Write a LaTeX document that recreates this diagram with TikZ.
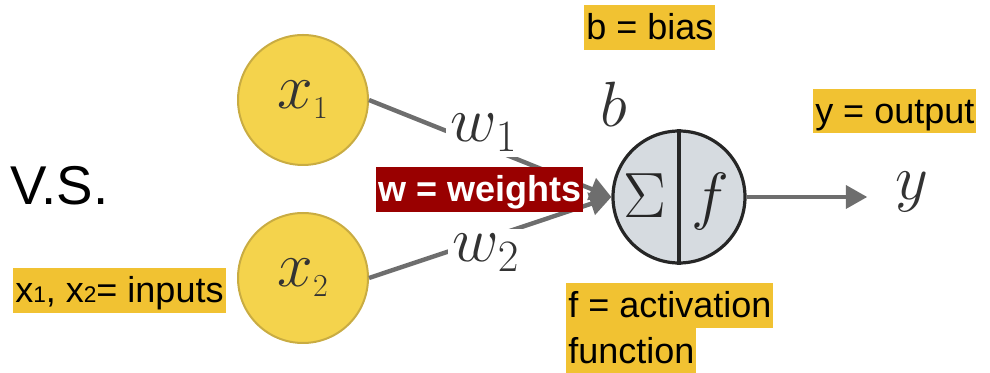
\RequirePackage{fix-cm}
\documentclass[tikz,border=0pt]{standalone}
\usepackage[no-math]{fontspec}
\usepackage{tikz}
\usetikzlibrary{arrows.meta,positioning}
\newfontfamily\slidefont{Liberation Sans}
\newcommand{\bigmath}{\fontsize{48}{50}\selectfont}
\newcommand{\labelfont}{\slidefont\fontsize{27}{30}\selectfont}
\newcommand{\insub}[1]{{\fontsize{17}{17}\selectfont #1}}
\definecolor{hlyellow}{HTML}{F1C232}
\definecolor{darkred}{HTML}{990000}
\definecolor{inputfill}{HTML}{F4D34C}
\definecolor{inputdraw}{HTML}{C9AC42}
\definecolor{neurfill}{HTML}{D6DBE0}
\definecolor{neurdraw}{HTML}{262626}
\definecolor{arrowgray}{HTML}{6E6E6E}
\definecolor{mathgray}{HTML}{333333}

\begin{document}
\begin{tikzpicture}[x=0.75pt, y=-0.75pt,
    inputnode/.style={circle, draw=inputdraw, fill=inputfill, line width=1.5pt, minimum size=97.5pt, inner sep=0pt, font=\bigmath, text=mathgray},
    neuronnode/.style={circle, draw=neurdraw, fill=neurfill, line width=2.4pt, minimum size=99pt, inner sep=0pt},
    mathlbl/.style={inner sep=0pt, font=\bigmath, text=mathgray},
    wlabel/.style={mathlbl, fill=white, inner sep=4pt},
    hl/.style={fill=hlyellow, inner xsep=1.5pt, inner ysep=1.5pt, text height=24.5pt, text depth=6pt, font=\labelfont, anchor=west},
    conn/.style={-{Triangle[length=16pt, width=17pt]}, line width=3.3pt, arrowgray}
]
    \useasboundingbox (0,0) rectangle (990,373);

    % neurons
    \node[inputnode] (x1) at (303,100) {$x_{\scriptscriptstyle 1}$};
    \node[inputnode] (x2) at (303,278) {$x_{\scriptscriptstyle 2}$};
    \node[neuronnode] (neuron) at (679,197) {};
    \draw[line width=2.4pt, neurdraw] (neuron.north) -- (neuron.south);
    \node[mathlbl, text=neurdraw, anchor=base] (sum) at (645,218) {$\Sigma$};
    \node[mathlbl, text=neurdraw, anchor=base] (act) at (710,218) {$f$};
    \node[mathlbl, anchor=base] (bias) at (614,127) {$b$};
    \node[mathlbl, anchor=base] (yout) at (912,200) {$y$};

    % connectors
    \draw[conn] (x1.east) -- (neuron.west);
    \draw[conn] (x2.east) -- (neuron.west);
    \draw[conn, shorten >=21pt] (neuron.east) -- (neuron.east -| yout.west);

    \node[wlabel, anchor=base] (w1) at (484,142) {$w_{1}$};
    \node[wlabel, anchor=base] (w2) at (486,262) {$w_{2}$};

    % highlighted notes
    \node[inner sep=0pt, anchor=base west, font=\slidefont\fontsize{41}{45}\selectfont] (vs) at (10,205) {V.S.};
    \node[hl] (biasdef) at (584,27.5) {b = bias};
    \node[hl] (outdef) at (813,111) {y = output};
    \node[hl] (indef) at (13,290.5) {x\insub{1}, x\insub{2}= inputs};
    \node[hl, fill=darkred, text=white, font={\labelfont\bfseries}] (wdef) at (376,189.5) {w = weights};
    \node[hl] (actdef) at (566,305.5) {f = activation};
    \node[hl, below=0pt of actdef.south west, anchor=north west] (actdef2) {function};
\end{tikzpicture}
\end{document}
